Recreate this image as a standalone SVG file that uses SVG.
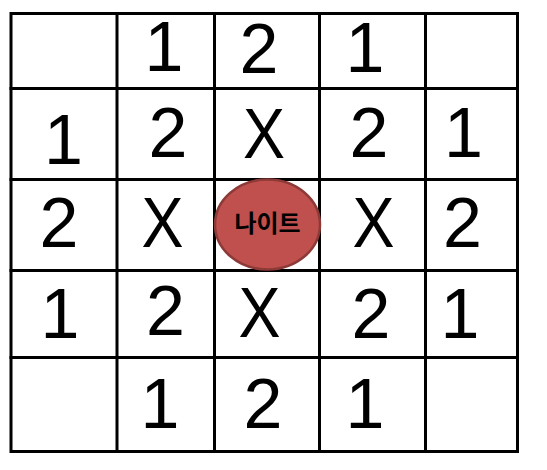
<svg xmlns="http://www.w3.org/2000/svg" width="547" height="470" viewBox="0 0 547 470">
<style>
.g{stroke:#000;stroke-width:3;fill:none;stroke-linecap:square}
.n{font-family:"Liberation Sans",Arial,sans-serif;font-size:70px;fill:#000;text-anchor:middle}
.k{font-family:"Noto Sans CJK KR","Noto Sans CJK SC",sans-serif;font-size:24px;font-weight:bold;fill:#000;text-anchor:middle}
</style>
<rect width="547" height="470" fill="#fff"/>
<g id="grid" class="g">
<rect x="11" y="13.5" width="506.5" height="438"/>
<line x1="117" y1="13.5" x2="117" y2="451.5"/>
<line x1="214.5" y1="13.5" x2="214.5" y2="451.5"/>
<line x1="319.5" y1="13.5" x2="319.5" y2="451.5"/>
<line x1="425.5" y1="13.5" x2="425.5" y2="451.5"/>
<line x1="11" y1="88.5" x2="517.5" y2="88.5"/>
<line x1="11" y1="179.5" x2="517.5" y2="179.5"/>
<line x1="11" y1="270.5" x2="517.5" y2="270.5"/>
<line x1="11" y1="357.5" x2="517.5" y2="357.5"/>
</g>
<g id="row1">
<text class="n" x="164" y="71">1</text>
<text class="n" x="259" y="73">2</text>
<text class="n" x="365" y="71.5">1</text>
</g>
<g id="row2">
<text class="n" x="63.5" y="164">1</text>
<text class="n" x="168" y="157">2</text>
<text class="n" x="264" y="158" textLength="42" lengthAdjust="spacingAndGlyphs">X</text>
<text class="n" x="369" y="157">2</text>
<text class="n" x="463.5" y="157">1</text>
</g>
<g id="row3">
<text class="n" x="59" y="247">2</text>
<text class="n" x="162.5" y="247" textLength="42" lengthAdjust="spacingAndGlyphs">X</text>
<text class="n" x="373.5" y="247" textLength="42" lengthAdjust="spacingAndGlyphs">X</text>
<text class="n" x="462.5" y="247">2</text>
</g>
<g id="row4">
<text class="n" x="60" y="338">1</text>
<text class="n" x="165.5" y="335">2</text>
<text class="n" x="259.5" y="337" textLength="42" lengthAdjust="spacingAndGlyphs">X</text>
<text class="n" x="371" y="338">2</text>
<text class="n" x="460" y="338">1</text>
</g>
<g id="row5">
<text class="n" x="160" y="428">1</text>
<text class="n" x="263" y="428">2</text>
<text class="n" x="365" y="428">1</text>
</g>
<g id="knight">
<ellipse cx="267.5" cy="224.5" rx="52.5" ry="45" fill="#C0504D" stroke="#8C3A38" stroke-width="2.5"/>
<text class="k" x="267.5" y="231.5">나이트</text>
</g>
</svg>
